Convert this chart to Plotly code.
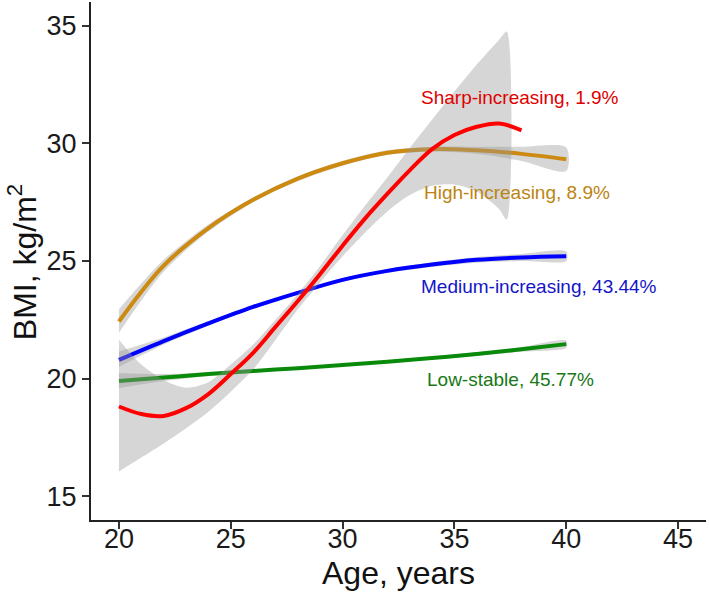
import plotly.graph_objects as go

# ---------------- data ----------------
ages = [20, 22, 24, 26, 28, 30, 32, 34, 36, 38, 40]

low_bmi = [19.9, 20.05, 20.2, 20.33, 20.45, 20.58, 20.72, 20.88, 21.05, 21.25, 21.47]
low_upper = [20.24, 20.2, 20.28, 20.39, 20.5, 20.63, 20.77, 20.94, 21.12, 21.35, 21.62]
low_lower = [19.6, 19.9, 20.12, 20.27, 20.4, 20.53, 20.67, 20.82, 20.98, 21.15, 21.32]

med_bmi = [20.8, 21.6, 22.35, 23.05, 23.65, 24.2, 24.58, 24.85, 25.05, 25.15, 25.2]
med_upper = [21.16, 21.75, 22.45, 23.12, 23.72, 24.27, 24.66, 24.95, 25.17, 25.3, 25.4]
med_lower = [20.5, 21.45, 22.25, 22.98, 23.58, 24.13, 24.5, 24.75, 24.93, 25.0, 25.0]

high_bmi = [22.43, 24.8, 26.4, 27.6, 28.5, 29.15, 29.6, 29.75, 29.7, 29.55, 29.32]
high_upper = [22.95, 25.05, 26.55, 27.7, 28.6, 29.25, 29.7, 29.85, 29.85, 29.85, 29.82]
high_lower = [21.95, 24.55, 26.25, 27.5, 28.4, 29.05, 29.5, 29.65, 29.55, 29.25, 28.82]

sharp_age = [20, 21, 22, 23, 24, 25, 26, 27, 28, 29, 30, 31, 32, 33, 34, 35, 36, 37, 38]
sharp_bmi = [18.82, 18.5, 18.42, 18.75, 19.35, 20.2, 21.1, 22.2, 23.3, 24.45, 25.65,
             26.8, 27.85, 28.85, 29.75, 30.35, 30.7, 30.84, 30.55]
sharp_ci_age = [20, 21, 22, 23, 24, 25, 26, 27, 28, 29, 30, 31, 32, 33, 34, 35, 36, 37, 37.34]
sharp_upper = [21.66, 20.6, 19.95, 19.62, 19.85, 20.6, 21.45, 22.5, 23.6, 24.8, 26.1,
               27.35, 28.55, 29.8, 31.0, 32.2, 33.35, 34.4, 34.75]
sharp_lower = [16.06, 16.65, 17.25, 17.9, 18.6, 19.45, 20.4, 21.65, 22.95, 24.1, 25.2,
               26.2, 27.1, 27.8, 28.2, 28.25, 27.95, 27.2, 26.76]

labels = ["Low-stable, 45.77%", "Medium-increasing, 43.44%",
          "High-increasing, 8.9%", "Sharp-increasing, 1.9%"]
label_x = [37.5, 38.8, 37.8, 37.95]
label_y = [19.96, 23.92, 27.89, 31.93]

line_colors = ["#0A8A0A", "#0000FF", "#CC8A10", "#FF0000"]
text_colors = ["#187818", "#1414C8", "#BB8412", "#E00000"]

x_ticks = [20, 25, 30, 35, 40, 45]
y_ticks = [15, 20, 25, 30, 35]

FONT = "Liberation Sans, Arial, sans-serif"
BAND = "rgba(153,153,153,0.4)"

fig = go.Figure()

series = [
    (ages, low_bmi, ages, low_upper, low_lower),
    (ages, med_bmi, ages, med_upper, med_lower),
    (ages, high_bmi, ages, high_upper, high_lower),
    (sharp_age, sharp_bmi, sharp_ci_age, sharp_upper, sharp_lower),
]

for i, (xa, ya, xc, up, lo) in enumerate(series):
    fig.add_trace(go.Scatter(
        x=list(xc) + list(xc)[::-1],
        y=list(up) + list(lo)[::-1],
        fill="toself", fillcolor=BAND, mode="lines",
        line=dict(width=0, shape="spline", smoothing=0.8),
        hoverinfo="skip", showlegend=False))
    fig.add_trace(go.Scatter(
        x=xa, y=ya, mode="lines",
        line=dict(color=line_colors[i], width=4, shape="spline"),
        showlegend=False))

for i, t in enumerate(labels):
    fig.add_annotation(x=label_x[i], y=label_y[i], text=t, showarrow=False,
                       font=dict(family=FONT, size=19, color=text_colors[i]),
                       xanchor="center", yanchor="middle")

# axis titles as annotations (fixed positions)
fig.add_annotation(x=0.5, y=-0.102, xref="paper", yref="paper",
                   text="Age, years", showarrow=False,
                   font=dict(family=FONT, size=32, color="#111111"),
                   xanchor="center", yanchor="middle")
fig.add_annotation(x=-0.112, y=0.498, xref="paper", yref="paper",
                   text="BMI, kg/m<sup>2</sup>", showarrow=False, textangle=-90,
                   font=dict(family=FONT, size=32, color="#111111"),
                   xanchor="center", yanchor="middle")

axis_common = dict(showgrid=False, zeroline=False, showline=True, automargin=False,
                   linecolor="#222222", linewidth=2, ticks="outside",
                   ticklen=7, tickwidth=1.5, tickcolor="#333333",
                   tickfont=dict(family=FONT, size=27, color="#1a1a1a"))

fig.update_layout(
    width=709, height=593,
    margin=dict(l=91, r=3, t=2, b=73),
    paper_bgcolor="white", plot_bgcolor="white",
    xaxis=dict(range=[18.75, 46.25], tickvals=x_ticks, ticklabelstandoff=-13,
               **axis_common),
    yaxis=dict(range=[14, 36], tickvals=y_ticks, **axis_common),
)

fig.write_html("out.html", config={"displayModeBar": False},
               post_script="document.body.style.margin='0px';document.body.style.overflow='hidden';")
